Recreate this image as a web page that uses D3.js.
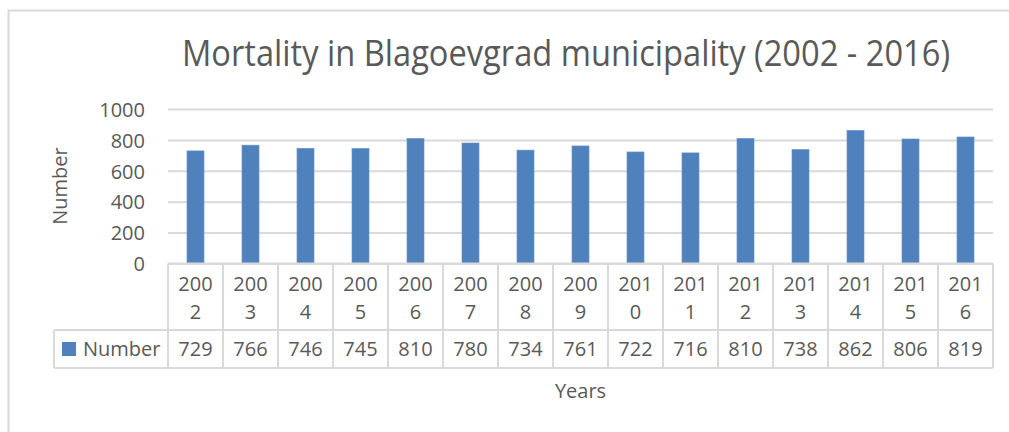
<!DOCTYPE html>
<html>
<head>
<meta charset="utf-8">
<script src="https://cdn.jsdelivr.net/npm/d3@7"></script>
<style>
  body { margin: 0; background: #fff; }
  text { font-family: "Open Sans", "Noto Sans", sans-serif; fill: #595959; }
</style>
</head>
<body>
<script>
// data
var years = ["2002","2003","2004","2005","2006","2007","2008","2009","2010","2011","2012","2013","2014","2015","2016"];
var deaths = [729, 766, 746, 745, 810, 780, 734, 761, 722, 716, 810, 738, 862, 806, 819];
var yTicks = [0, 200, 400, 600, 800, 1000];
var seriesName = "Number";

var width = 1009, height = 432;
var plotLeft = 168, plotRight = 993, plotTop = 109, plotBase = 263.5;
var rowSplit = 330, tableBottom = 368, legendLeft = 54;
var gridCol = "#d9d9d9", barCol = "#4f81bd";

var svg = d3.select("body").append("svg")
    .attr("width", width)
    .attr("height", height);

// outer chart frame (top + left edges only visible)
svg.append("path")
    .attr("d", "M8.5,432 L8.5,10.5 L1009,10.5")
    .attr("fill", "none")
    .attr("stroke", gridCol)
    .attr("stroke-width", 2);

var x = d3.scaleBand()
    .domain(years)
    .range([plotLeft, plotRight])
    .paddingInner(0.69)
    .paddingOuter(0.345);

var y = d3.scaleLinear()
    .domain([0, 1000])
    .range([plotBase, plotTop]);

// gridlines + tick labels
var yAxis = svg.append("g")
    .attr("transform", "translate(" + plotLeft + ",0)")
    .call(d3.axisLeft(y).tickValues(yTicks).tickFormat(d3.format("d"))
        .tickSize(-(plotRight - plotLeft)).tickPadding(23));
yAxis.select(".domain").remove();
yAxis.selectAll("line").attr("stroke", gridCol).attr("stroke-width", 2);
yAxis.selectAll("text")
    .style("font-size", "20px")
    .attr("fill", "#595959")
    .attr("dy", "0.36em");

// bars
svg.selectAll(".bar")
    .data(deaths)
    .enter().append("rect")
    .attr("class", "bar")
    .attr("x", function(d, i) { return x(years[i]); })
    .attr("width", x.bandwidth())
    .attr("y", function(d) { return y(d); })
    .attr("height", function(d) { return plotBase - y(d); })
    .attr("fill", barCol)
    .attr("stroke", "#6f96c8")
    .attr("stroke-width", 0.6);

// data table
var step = x.step();
var table = svg.append("g");
table.append("line")
    .attr("x1", plotLeft).attr("x2", plotRight)
    .attr("y1", plotBase).attr("y2", plotBase);
table.append("line")
    .attr("x1", legendLeft).attr("x2", plotRight)
    .attr("y1", rowSplit).attr("y2", rowSplit);
table.append("line")
    .attr("x1", legendLeft).attr("x2", plotRight)
    .attr("y1", tableBottom).attr("y2", tableBottom);
table.append("line")
    .attr("x1", legendLeft).attr("x2", legendLeft)
    .attr("y1", rowSplit).attr("y2", tableBottom);
table.selectAll(".vline")
    .data(d3.range(years.length + 1))
    .enter().append("line")
    .attr("class", "vline")
    .attr("x1", function(i) { return plotLeft + i * step; })
    .attr("x2", function(i) { return plotLeft + i * step; })
    .attr("y1", plotBase).attr("y2", tableBottom);
table.selectAll("line").attr("stroke", gridCol).attr("stroke-width", 2);

// year headers wrapped in two lines like the original
var head = table.selectAll(".yr")
    .data(years)
    .enter().append("text")
    .attr("class", "yr")
    .attr("text-anchor", "middle")
    .style("font-size", "20px");
head.append("tspan")
    .attr("x", function(d) { return x(d) + x.bandwidth() / 2; })
    .attr("y", 291)
    .text(function(d) { return d.slice(0, 3); });
head.append("tspan")
    .attr("x", function(d) { return x(d) + x.bandwidth() / 2; })
    .attr("y", 319)
    .text(function(d) { return d.slice(3); });

table.selectAll(".val")
    .data(deaths)
    .enter().append("text")
    .attr("class", "val")
    .attr("text-anchor", "middle")
    .attr("x", function(d, i) { return x(years[i]) + x.bandwidth() / 2; })
    .attr("y", 356)
    .style("font-size", "20px")
    .text(function(d) { return d; });

// legend key in the table
table.append("rect")
    .attr("x", 62).attr("y", 342)
    .attr("width", 14).attr("height", 14)
    .attr("fill", barCol);
table.append("text")
    .attr("x", 83).attr("y", 356)
    .style("font-size", "20px")
    .text(seriesName);

// titles
svg.append("text")
    .attr("x", 182)
    .attr("y", 66)
    .attr("textLength", 768)
    .attr("lengthAdjust", "spacingAndGlyphs")
    .style("font-size", "36px")
    .text("Mortality in Blagoevgrad municipality (2002 - 2016)");

svg.append("text")
    .attr("transform", "translate(67,186) rotate(-90)")
    .attr("text-anchor", "middle")
    .style("font-size", "20px")
    .text("Number");

svg.append("text")
    .attr("x", (plotLeft + plotRight) / 2)
    .attr("y", 398)
    .attr("text-anchor", "middle")
    .style("font-size", "20px")
    .text("Years");
</script>
</body>
</html>
